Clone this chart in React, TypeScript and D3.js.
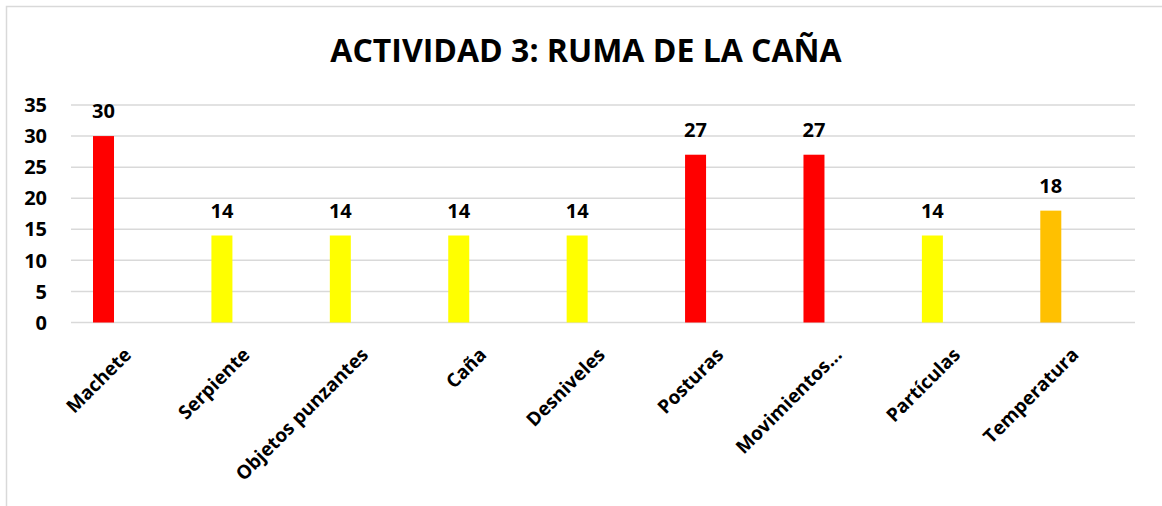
import React, { useEffect, useRef } from 'react';
import * as d3 from 'd3';

const categories = [
  'Machete',
  'Serpiente',
  'Objetos punzantes',
  'Caña',
  'Desniveles',
  'Posturas',
  'Movimientos...',
  'Partículas',
  'Temperatura',
];
const values = [30, 14, 14, 14, 14, 27, 27, 14, 18];
const barColors = [
  '#FF0000',
  '#FFFF00',
  '#FFFF00',
  '#FFFF00',
  '#FFFF00',
  '#FF0000',
  '#FF0000',
  '#FFFF00',
  '#FFC000',
];
const yTicks = [0, 5, 10, 15, 20, 25, 30, 35];
const title = 'ACTIVIDAD 3: RUMA DE LA CAÑA';

const FONT = '"Open Sans", "DejaVu Sans", sans-serif';

const App: React.FC = () => {
  const svgRef = useRef<SVGSVGElement>(null);
  const width = 1162;
  const height = 506;

  useEffect(() => {
    if (!svgRef.current) return;
    const svg = d3.select(svgRef.current);
    svg.selectAll('*').remove();

    svg.append('rect')
      .attr('x', 0)
      .attr('y', 0)
      .attr('width', width)
      .attr('height', height)
      .attr('fill', '#ffffff');

    // chart frame (right and bottom edges are outside the crop)
    svg.append('rect')
      .attr('x', 6.5)
      .attr('y', 6.5)
      .attr('width', width + 20)
      .attr('height', height + 20)
      .attr('fill', 'none')
      .attr('stroke', '#d9d9d9')
      .attr('stroke-width', 1.5);

    const gridLeft = 71;
    const gridRight = 1135;

    const xScale = d3
      .scaleBand<string>()
      .domain(categories)
      .range([44.3, 1110])
      .padding(0);

    const yScale = d3.scaleLinear().domain([0, 35]).range([322.5, 105]);

    // gridlines
    svg.append('g')
      .selectAll('line')
      .data(yTicks)
      .join('line')
      .attr('x1', gridLeft)
      .attr('x2', gridRight)
      .attr('y1', (d) => yScale(d))
      .attr('y2', (d) => yScale(d))
      .attr('stroke', '#d9d9d9')
      .attr('stroke-width', 1.5);

    // y tick labels
    svg.append('g')
      .selectAll('text')
      .data(yTicks)
      .join('text')
      .attr('x', 47)
      .attr('y', (d) => yScale(d))
      .attr('dy', '0.36em')
      .attr('text-anchor', 'end')
      .attr('font-family', FONT)
      .attr('font-weight', 700)
      .attr('font-size', '20px')
      .attr('fill', '#000')
      .text((d) => d);

    const barW = xScale.bandwidth() * (21 / 118.4);

    // bars
    svg.append('g')
      .selectAll('rect')
      .data(categories)
      .join('rect')
      .attr('x', (d) => (xScale(d) as number) + xScale.bandwidth() / 2 - barW / 2)
      .attr('y', (_, i) => yScale(values[i]))
      .attr('width', barW)
      .attr('height', (_, i) => yScale(0) - yScale(values[i]))
      .attr('fill', (_, i) => barColors[i]);

    // data labels
    svg.append('g')
      .selectAll('text')
      .data(categories)
      .join('text')
      .attr('x', (d) => (xScale(d) as number) + xScale.bandwidth() / 2)
      .attr('y', (_, i) => yScale(values[i]) - 18)
      .attr('text-anchor', 'middle')
      .attr('font-family', FONT)
      .attr('font-weight', 700)
      .attr('font-size', '20px')
      .attr('fill', '#000')
      .text((_, i) => values[i]);

    // category labels, rotated
    svg.append('g')
      .selectAll('text')
      .data(categories)
      .join('text')
      .attr('transform', (d) => {
        const cx = (xScale(d) as number) + xScale.bandwidth() / 2 + 29;
        return `translate(${cx},356) rotate(-45)`;
      })
      .attr('text-anchor', 'end')
      .attr('font-family', FONT)
      .attr('font-weight', 700)
      .attr('font-size', '19px')
      .attr('fill', '#000')
      .text((d) => d);

    // title
    svg.append('text')
      .attr('x', 586)
      .attr('y', 62)
      .attr('text-anchor', 'middle')
      .attr('font-family', FONT)
      .attr('font-weight', 700)
      .attr('font-size', '32px')
      .attr('fill', '#000')
      .text(title);
  }, []);

  return (
    <svg
      ref={svgRef}
      width={width}
      height={height}
      style={{ position: 'absolute', left: 0, top: 0, display: 'block' }}
    />
  );
};

export default App;
